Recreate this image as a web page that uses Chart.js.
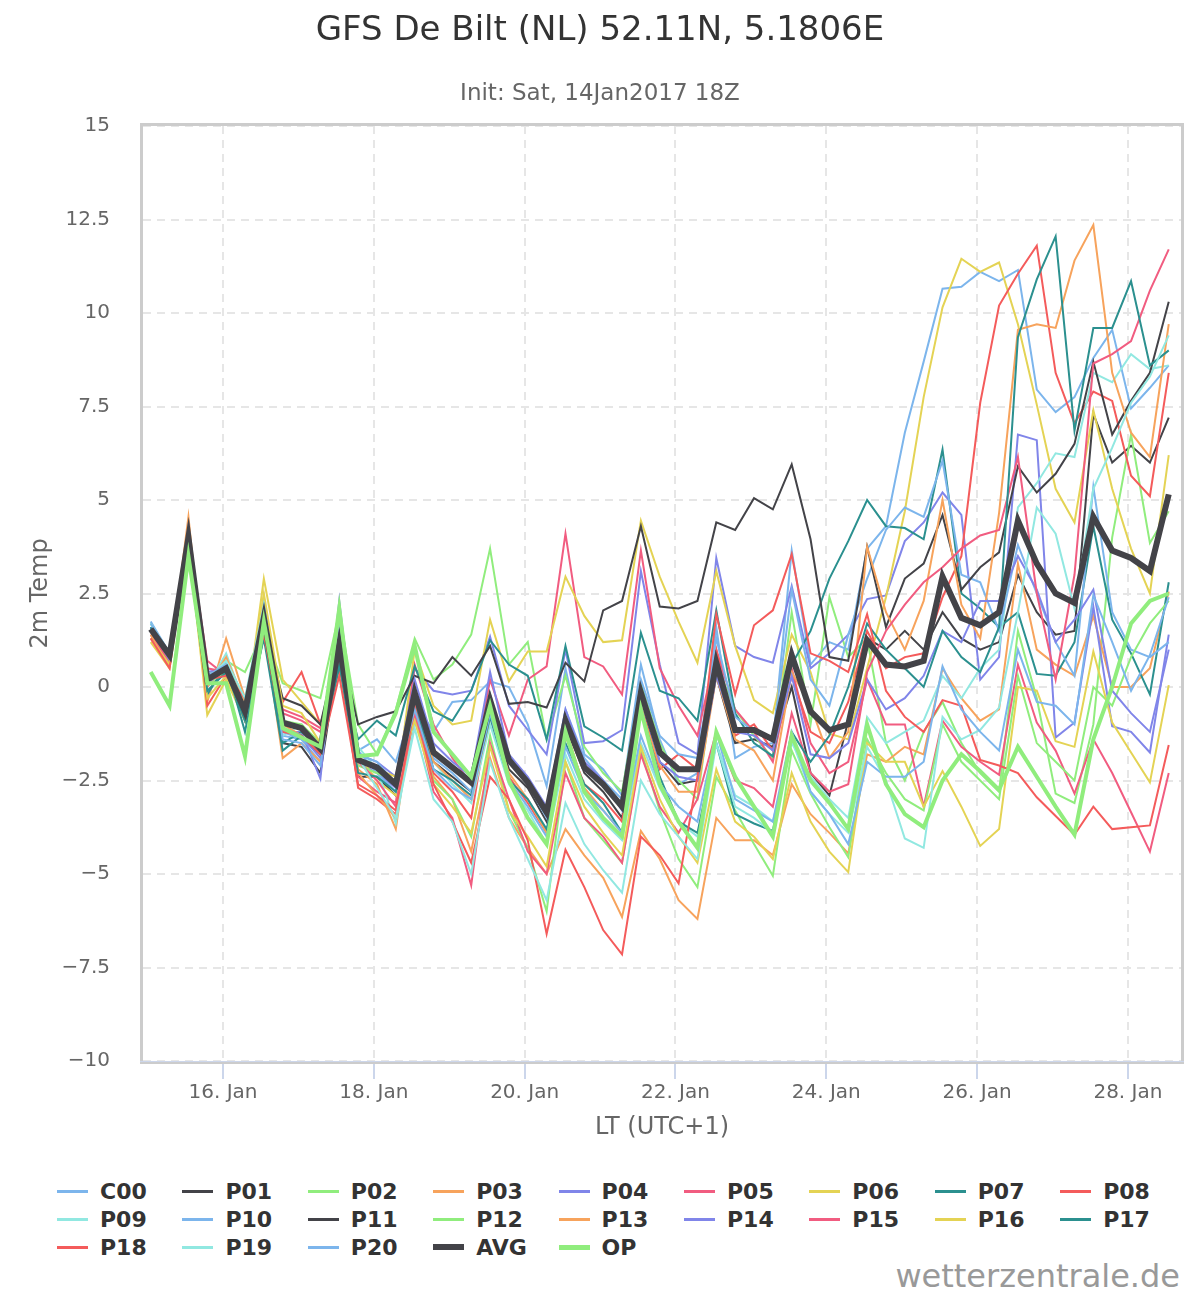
<!DOCTYPE html>
<html lang="en">
<head>
<meta charset="utf-8">
<title>GFS De Bilt (NL) 52.11N, 5.1806E</title>
<script src="https://cdn.jsdelivr.net/npm/chart.js@4.4.1/dist/chart.umd.min.js"></script>
<style>
  html, body { margin: 0; padding: 0; background: #fff; }
  body { font-family: "DejaVu Sans", sans-serif; }
  #page { position: relative; width: 1200px; height: 1300px; overflow: hidden; }
  #chart { position: absolute; left: 0; top: 0; }
  #title { position: absolute; left: 0; top: 7px; width: 1200px; text-align: center; font-size: 34px; line-height: 42px; color: #333; }
  #subtitle { position: absolute; left: 0; top: 78px; width: 1200px; text-align: center; font-size: 23px; line-height: 28px; color: #666; }
  #legend { position: absolute; left: 57px; top: 1177px; display: grid; grid-template-columns: repeat(9, 125.4px); }
  .item { display: flex; align-items: center; height: 28px; font-size: 22px; font-weight: bold; color: #333; white-space: nowrap; }
  .swatch { display: inline-block; width: 31px; margin-right: 12px; }
  #credits { position: absolute; right: 20px; top: 1256px; font-size: 32px; line-height: 40px; color: #999; }
</style>
</head>
<body>
<div id="page">
  <canvas id="chart" width="1200" height="1160"></canvas>
  <div id="title">GFS De Bilt (NL) 52.11N, 5.1806E</div>
  <div id="subtitle">Init: Sat, 14Jan2017 18Z</div>
  <div id="legend"></div>
  <div id="credits">wetterzentrale.de</div>
</div>
<script>
// time axis: hours after 15 Jan 00:00 LT, one value every 6 h from 15 Jan 01:00
const startHour = 1;
const stepHours = 6;
const tickHours = [24, 72, 120, 168, 216, 264, 312];
const tickLabels = ["16. Jan", "18. Jan", "20. Jan", "22. Jan", "24. Jan", "26. Jan", "28. Jan"];

const seriesNames = ["C00", "P01", "P02", "P03", "P04", "P05", "P06", "P07", "P08", "P09",
  "P10", "P11", "P12", "P13", "P14", "P15", "P16", "P17", "P18", "P19", "P20", "AVG", "OP"];

// 2m temperature (°C)
const C00 = [1.75,0.9,4.2,0.1,0.7,-0.9,2.4,-1.3,-1.4,-2.0,1.3,-1.7,-1.4,-2.0,
  -0.4,-1.2,-0.4,-0.35,0.15,0.0,-1.0,-2.65,0.5,-1.8,-2.2,-2.9,0.6,-1.4,
  -2.6,-2.3,1.6,-1.9,-1.6,-1.5,3.65,0.6,1.2,1.0,3.7,4.3,6.8,
  8.7,10.65,10.7,11.1,10.85,11.15,7.95,7.35,7.75,8.8,9.55,7.45,8.0,8.6];
const P01 = [1.5,0.8,4.1,0.2,0.4,-0.9,1.8,-1.5,-1.6,-2.3,1.0,-2.4,-2.4,-2.9,
  -0.3,-2.0,-2.4,-2.8,-0.5,-2.2,-2.7,-3.6,-1.0,-2.3,-2.8,-3.5,-0.5,-2.0,
  -2.6,-2.5,0.3,-1.5,-1.4,-1.6,0.0,-2.3,-2.9,-0.9,1.3,1.0,1.5,
  1.0,2.0,1.3,1.0,1.2,3.0,2.0,1.4,1.5,7.3,6.0,6.45,6.0,7.2];
const P02 = [1.7,0.8,4.0,0.3,0.7,0.4,1.5,0.1,-0.1,-0.3,2.0,-1.0,-1.8,-0.6,
  1.3,0.2,0.6,1.4,3.7,0.6,1.2,-1.4,0.3,-1.6,-2.3,-2.8,0.1,-1.5,
  -2.5,-3.0,0.6,-0.6,-1.3,-1.9,2.0,-1.0,2.4,0.8,1.3,-1.5,-2.5,
  -1.2,-0.4,-1.5,-2.3,-2.8,1.5,-0.3,-2.85,-3.1,-1.0,4.0,6.75,3.85,4.7];
const P03 = [1.3,0.6,4.55,-0.4,1.3,-0.3,1.6,-1.9,-1.5,-2.0,0.9,-2.2,-2.6,-3.8,
  -0.3,-2.4,-3.0,-4.4,-1.9,-3.5,-4.3,-5.0,-3.8,-4.5,-5.1,-6.15,-3.85,-4.6,
  -5.7,-6.2,-3.5,-4.1,-4.1,-4.5,-2.6,-3.4,-3.9,-4.45,-1.8,-2.0,-1.6,
  -1.8,0.5,-0.3,-0.9,-0.6,3.3,1.0,0.6,0.3,1.9,0.0,0.0,0.5,2.55];
const P04 = [1.6,0.8,4.3,0.4,0.5,-0.5,2.1,-1.2,-1.2,-2.45,2.3,-2.0,-2.3,-2.7,
  0.5,-0.1,-0.2,-0.1,1.35,-0.5,-1.15,-1.8,1.0,-1.5,-1.45,-1.15,3.1,0.6,
  -1.5,-1.8,3.45,1.1,0.8,0.65,2.7,0.5,0.9,1.4,2.35,2.45,3.9,
  4.4,5.2,4.6,0.2,0.8,6.75,6.6,-1.35,-0.95,2.15,-1.05,-1.2,-1.75,1.4];
const P05 = [1.6,0.7,4.1,0.7,0.3,-0.4,1.9,-0.6,-0.8,-1.1,1.0,-2.4,-2.8,-3.1,
  0.6,-1.0,-1.9,-2.6,0.2,-1.3,0.2,0.55,4.1,0.8,0.55,-0.2,3.65,0.5,
  -0.5,-1.3,1.0,-0.6,-1.2,-2.0,0.5,-1.5,-2.3,-2.0,0.2,-1.0,-1.0,
  -3.2,-0.9,-1.6,-2.0,-2.35,0.6,-0.95,-1.7,-2.85,-1.4,-2.3,-3.35,-4.4,-2.3];
const P06 = [1.2,0.5,3.9,-0.75,0.2,-0.9,2.9,0.2,-0.4,-1.0,0.8,-1.8,-2.5,-2.9,
  1.0,-0.5,-1.0,-0.9,1.8,0.15,0.95,0.95,2.95,1.9,1.2,1.25,4.45,2.95,
  1.75,0.65,3.1,1.1,-0.35,-0.7,1.4,0.4,-1.25,-1.4,0.5,2.4,4.7,
  7.75,10.15,11.45,11.1,11.35,9.7,7.55,5.3,4.4,7.4,5.3,3.7,2.5,6.2];
const P07 = [1.6,0.8,4.0,-0.2,0.6,-1.2,1.4,-1.5,-1.2,-1.6,0.5,-1.4,-0.9,-1.3,
  0.55,-0.65,-0.9,-0.1,1.25,0.6,0.3,-1.4,1.1,-1.05,-1.35,-1.7,1.45,-0.1,
  -0.3,-0.9,2.05,-0.7,-1.5,-1.85,0.6,1.5,2.9,3.9,5.0,4.3,4.25,
  3.95,6.35,2.5,2.1,1.6,2.0,0.35,0.3,1.2,4.3,1.8,0.9,-0.2,2.8];
const P08 = [1.4,0.6,4.2,-0.5,0.3,-0.5,1.5,-0.4,0.4,-1.0,0.7,-2.7,-3.0,-3.4,
  -0.9,-2.3,-2.8,-3.5,-0.5,-2.4,-3.1,-3.9,-1.3,-2.6,-3.0,-3.6,-0.5,-2.2,
  -1.8,-2.2,1.0,-1.3,-1.0,-1.7,0.3,-1.2,-1.5,-0.4,1.5,0.5,0.8,
  0.9,2.4,3.5,7.6,10.2,11.05,11.8,8.4,7.05,7.9,7.65,5.65,5.1,8.4];
const P09 = [1.7,0.9,4.1,0.0,0.9,-0.5,1.9,-1.3,-1.0,-1.6,1.3,-1.6,-2.2,-3.65,
  -0.8,-2.0,-2.6,-3.1,-1.0,-2.6,-3.3,-4.2,-1.8,-3.0,-3.6,-4.1,-1.5,-2.7,
  -3.6,-4.0,-1.5,-2.9,-3.2,-3.6,-1.5,-2.4,-3.0,-3.5,-0.8,-1.5,-1.2,
  -0.9,0.3,-0.3,0.5,1.0,4.8,5.45,6.25,6.15,8.4,8.15,8.9,8.5,8.6];
const P10 = [1.6,0.8,4.0,0.0,0.6,-0.7,2.0,-1.2,-1.4,-1.8,1.7,-1.7,-2.3,-2.8,
  -0.3,-1.9,-2.3,-2.8,-0.2,-2.0,-2.6,-3.5,-0.6,-1.9,-2.5,-3.0,0.2,-1.3,
  -1.8,-1.9,1.3,-0.8,-1.2,-1.4,2.6,0.2,-0.5,1.4,2.9,4.2,4.8,
  4.55,6.05,3.0,2.8,1.5,3.8,2.5,1.2,0.3,5.35,2.0,1.0,0.8,1.2];
const P11 = [1.5,0.7,4.0,0.3,0.5,-0.7,1.7,-0.3,-0.5,-1.0,1.2,-1.0,-0.8,-0.65,
  0.3,0.1,0.8,0.3,1.1,-0.45,-0.4,-0.55,0.65,0.15,2.05,2.3,4.3,2.15,
  2.1,2.3,4.4,4.2,5.05,4.75,5.95,3.95,0.8,0.7,3.75,1.6,2.9,
  3.3,4.6,2.6,3.2,3.6,5.9,5.2,5.7,6.5,8.7,6.75,7.65,8.4,10.3];
const P12 = [1.5,0.7,3.8,0.1,0.4,-0.8,1.7,-0.9,-1.0,-1.5,1.9,-2.1,-2.3,-2.5,
  -0.8,-2.5,-3.0,-4.0,-1.3,-3.3,-4.3,-6.0,-2.0,-3.5,-4.1,-4.7,-1.7,-3.3,
  -4.6,-5.35,-2.4,-3.3,-4.2,-5.05,-1.7,-2.85,-3.75,-4.55,-1.4,-2.3,-3.0,
  -3.3,-1.0,-2.0,-2.5,-3.0,0.3,-1.5,-2.0,-2.5,0.0,-0.5,0.8,1.7,2.3];
const P13 = [1.4,0.6,4.3,0.0,0.8,-0.4,1.7,-1.0,-1.3,-1.8,1.1,-2.3,-2.9,-3.5,
  -0.6,-2.0,-2.5,-3.0,-0.8,-2.3,-3.0,-3.9,-1.1,-2.7,-3.3,-3.9,-0.6,-2.1,
  -2.8,-2.8,0.3,-1.4,-1.7,-2.5,0.4,-0.5,-1.9,-1.2,3.75,2.0,1.0,
  2.3,5.0,2.2,1.3,4.65,9.55,9.7,9.6,11.4,12.35,8.4,6.8,6.15,9.7];
const P14 = [1.6,0.7,4.0,0.1,0.5,-0.6,2.2,-1.1,-1.3,-1.9,1.4,-1.8,-2.0,-2.4,
  0.2,-1.5,-2.0,-2.4,0.4,-1.8,-2.4,-3.2,-0.6,-2.0,-2.5,-3.3,-0.3,-2.0,
  -2.4,-2.5,0.3,-1.2,-1.3,-1.7,0.3,-1.8,-1.9,-1.5,0.2,-0.6,-0.3,
  0.3,1.5,1.2,2.3,2.3,3.5,2.6,1.2,1.8,2.6,-0.1,-0.7,-1.2,1.0];
const P15 = [1.5,0.6,4.1,0.5,0.4,-0.7,1.6,-0.7,-0.9,-1.2,0.9,-2.0,-2.5,-3.2,
  -0.7,-2.8,-3.5,-5.3,-1.5,-3.0,-4.4,-5.0,-2.3,-3.5,-4.0,-4.7,-1.8,-3.2,
  -3.9,-3.0,-1.2,-2.5,-2.7,-3.2,-0.7,-2.3,-2.8,-2.6,0.4,1.5,2.2,
  2.8,3.2,3.7,4.05,4.2,6.15,2.5,0.2,3.0,8.65,8.9,9.25,10.6,11.7];
const P16 = [1.3,0.6,3.9,-0.3,0.3,-0.8,2.5,-0.5,-0.7,-1.5,1.0,-1.9,-2.2,-2.4,
  -0.9,-2.6,-3.2,-3.9,-1.6,-3.3,-4.0,-4.8,-2.0,-3.2,-3.9,-4.5,-1.6,-3.0,
  -4.0,-4.7,-2.2,-3.6,-4.0,-4.6,-2.3,-3.6,-4.4,-4.95,-1.5,-2.0,-2.0,
  -3.2,-2.25,-3.2,-4.25,-3.8,0.0,-0.1,-1.45,-1.6,0.95,-0.95,-1.75,-2.55,0.05];
const P17 = [1.6,0.8,4.0,-0.1,0.4,-0.9,1.3,-1.7,-1.3,-1.8,0.6,-2.3,-2.4,-2.8,
  -0.4,-2.2,-2.5,-2.9,-0.8,-2.5,-3.0,-3.8,-1.5,-2.6,-3.1,-3.9,-0.6,-2.4,
  -3.6,-3.9,-1.5,-3.4,-3.65,-3.85,-1.2,-2.0,-1.3,0.0,1.7,1.0,0.5,
  0.0,1.5,0.8,0.4,1.6,9.35,10.9,12.05,6.85,9.6,9.6,10.85,8.6,9.0];
const P18 = [1.3,0.5,4.0,0.2,0.3,-0.3,1.4,-1.2,-1.3,-1.8,0.3,-2.6,-2.9,-3.3,
  -0.5,-2.6,-3.6,-4.7,-2.4,-3.0,-4.1,-6.6,-4.35,-5.35,-6.5,-7.15,-4.0,-4.5,
  -5.25,-2.4,1.95,-0.2,1.65,2.05,3.55,0.9,0.7,0.4,1.95,-0.1,-0.8,
  -1.2,-0.35,-0.5,-1.95,-2.1,-2.3,-2.95,-3.45,-3.95,-3.2,-3.8,-3.75,-3.7,-1.55];
const P19 = [1.7,0.8,4.1,0.2,0.7,-0.3,2.2,-1.0,-1.1,-1.6,1.3,-1.9,-2.7,-3.5,
  -1.1,-3.0,-3.6,-5.0,-2.0,-3.5,-4.6,-5.7,-3.1,-4.2,-4.9,-5.5,-2.5,-3.4,
  -4.0,-4.6,-1.5,-3.2,-3.5,-3.9,-1.4,-2.8,-3.4,-3.9,-1.6,-2.5,-4.05,
  -4.3,-0.8,-1.4,-1.15,-0.55,2.0,4.8,4.1,2.1,5.3,6.4,7.6,8.3,9.4];
const P20 = [1.7,0.9,4.1,0.3,0.6,-0.7,2.1,-1.4,-1.5,-2.1,1.4,-1.8,-2.0,-2.6,
  -0.6,-2.2,-2.7,-3.0,-0.7,-2.5,-3.2,-4.0,-1.6,-2.8,-3.3,-3.9,-1.3,-2.6,
  -3.2,-3.6,-1.2,-3.0,-3.3,-3.6,-1.2,-2.8,-3.4,-4.2,-2.0,-2.4,-2.4,
  -2.0,0.55,-0.6,-1.2,-1.7,1.0,-0.4,-0.5,-1.0,2.46,1.2,-0.1,0.85,2.4];
const AVG = [1.55,0.85,4.0,0.2,0.5,-0.65,1.85,-0.95,-1.1,-1.65,1.15,-1.95,-2.15,-2.6,
  -0.15,-1.75,-2.15,-2.55,-0.35,-1.95,-2.55,-3.35,-0.9,-2.15,-2.6,-3.2,-0.15,-1.75,
  -2.2,-2.2,0.65,-1.15,-1.15,-1.4,0.85,-0.65,-1.15,-1.0,1.25,0.6,0.55,
  0.7,2.95,1.85,1.65,2.0,4.45,3.3,2.5,2.25,4.55,3.65,3.45,3.1,5.15];
const OP = [0.4,-0.5,3.5,0.1,0.1,-1.85,1.75,-1.1,-1.35,-1.6,2.1,-1.85,-1.8,-0.7,
  1.1,-1.2,-1.8,-2.4,-0.5,-2.5,-3.5,-4.2,-1.2,-2.8,-3.5,-4.0,-0.6,-2.6,
  -3.6,-4.3,-1.2,-2.4,-3.2,-4.0,-1.3,-2.5,-3.1,-3.8,-1.0,-2.6,-3.4,
  -3.75,-2.5,-1.8,-2.25,-2.75,-1.6,-2.4,-3.2,-3.95,-1.4,0.0,1.7,2.3,2.5];

const seriesValues = [C00, P01, P02, P03, P04, P05, P06, P07, P08, P09, P10,
  P11, P12, P13, P14, P15, P16, P17, P18, P19, P20, AVG, OP];

const palette = ["#7cb5ec", "#434348", "#90ed7d", "#f7a35c", "#8085e9",
  "#f15c80", "#e4d354", "#2b908f", "#f45b5b", "#91e8e1"];
const FONT = "DejaVu Sans";

function lineColor(name, k) {
  if (name === "AVG") return "#434348";
  if (name === "OP") return "#90ed7d";
  return palette[k % palette.length];
}
function lineWidth(name) {
  if (name === "AVG") return 6;
  if (name === "OP") return 4;
  return 2;
}

const datasets = seriesNames.map((name, k) => ({
  label: name,
  data: seriesValues[k].map((v, i) => ({ x: startHour + stepHours * i, y: v })),
  borderColor: lineColor(name, k),
  backgroundColor: lineColor(name, k),
  borderWidth: lineWidth(name),
  pointRadius: 0,
  tension: 0,
  fill: false,
  order: seriesNames.length - k,
}));

// grey frame round the plot area, like the original
const plotFrame = {
  id: "plotFrame",
  afterDatasetsDraw(chart) {
    const { ctx, chartArea: a } = chart;
    ctx.save();
    ctx.strokeStyle = "#cccccc";
    ctx.lineWidth = 3;
    ctx.strokeRect(a.left - 1.5, a.top - 1.5, a.right - a.left + 3, a.bottom - a.top + 3);
    ctx.strokeStyle = "#ccd6eb";
    ctx.lineWidth = 1;
    ctx.beginPath();
    ctx.moveTo(a.left - 3, a.bottom + 0.5);
    ctx.lineTo(a.right + 3, a.bottom + 0.5);
    ctx.stroke();
    ctx.restore();
  },
};

const chart = new Chart(document.getElementById("chart"), {
  type: "line",
  data: { datasets },
  options: {
    responsive: false,
    animation: false,
    events: [],
    layout: { padding: { top: 126, right: 19, bottom: 0, left: 0 } },
    plugins: { legend: { display: false }, tooltip: { enabled: false }, title: { display: false } },
    scales: {
      x: {
        type: "linear",
        min: -1.46,
        max: 328.9,
        afterBuildTicks: (s) => { s.ticks = tickHours.map(v => ({ value: v })); },
        afterFit: (s) => { s.height = 99; },
        ticks: {
          autoSkip: false, maxRotation: 0, padding: 2, color: "#666",
          font: { family: FONT, size: 20 },
          callback: (v) => tickLabels[tickHours.indexOf(v)] ?? "",
        },
        grid: { color: "#e6e6e6", lineWidth: 2, tickLength: 18, tickColor: "#ccd6eb", tickWidth: 2, tickBorderDash: [] },
        border: { display: false, dash: [8, 6] },
        title: { display: true, text: "LT (UTC+1)", color: "#666", font: { family: FONT, size: 24 }, padding: { top: 0, bottom: 18 } },
      },
      y: {
        min: -10,
        max: 15,
        afterFit: (s) => { s.width = 143; },
        ticks: {
          stepSize: 2.5, padding: 33, color: "#666",
          font: { family: FONT, size: 20 },
          callback: (v) => (v < 0 ? "\u2212" + Math.abs(v) : String(v)),
        },
        grid: { color: "#e6e6e6", lineWidth: 2, drawTicks: false },
        border: { display: false, dash: [8, 6] },
        title: { display: true, text: "2m Temp", color: "#666", font: { family: FONT, size: 24 }, padding: { top: 26, bottom: 0 } },
      },
    },
  },
  plugins: [plotFrame],
});

// legend: 9 columns, line symbol + bold name
const legendBox = document.getElementById("legend");
chart.data.datasets.forEach(ds => {
  const item = document.createElement("div");
  item.className = "item";
  const sw = document.createElement("span");
  sw.className = "swatch";
  sw.style.height = (ds.label === "AVG" ? 6 : ds.label === "OP" ? 5 : 3) + "px";
  sw.style.background = ds.borderColor;
  item.appendChild(sw);
  item.appendChild(document.createTextNode(ds.label));
  legendBox.appendChild(item);
});
</script>
</body>
</html>
